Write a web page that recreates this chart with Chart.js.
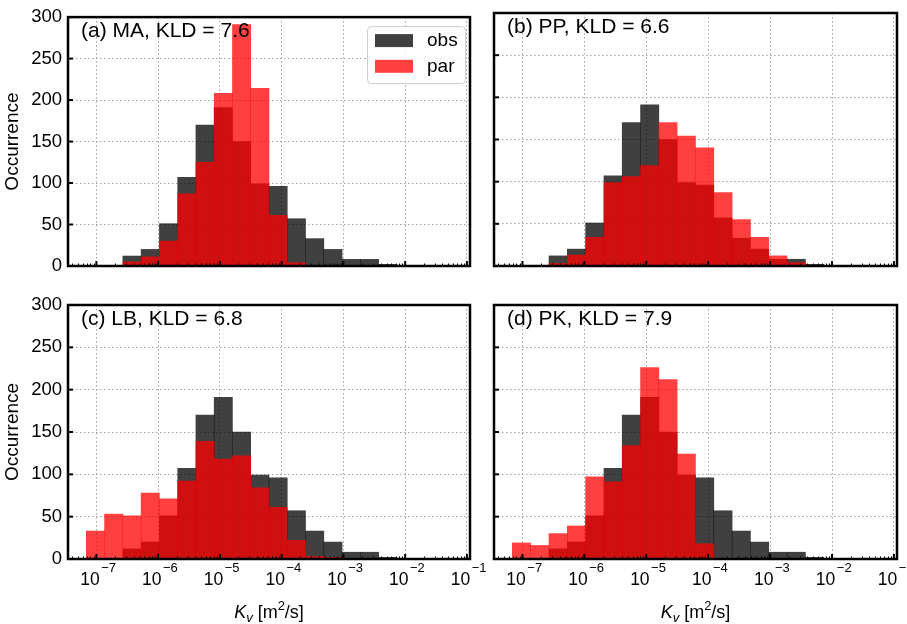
<!DOCTYPE html>
<html>
<head>
<meta charset="utf-8">
<script src="https://cdn.jsdelivr.net/npm/chart.js@4.4.1/dist/chart.umd.min.js"></script>
<style>
  html, body { margin: 0; padding: 0; background: #fff; }
  #fig { position: relative; width: 907px; height: 624px; overflow: hidden; }
  #fig canvas { position: absolute; left: 0; top: 0; }
</style>
</head>
<body>
<div id="fig">
  <canvas id="ca" width="907" height="624"></canvas>
  <canvas id="cb" width="907" height="624"></canvas>
  <canvas id="cc" width="907" height="624"></canvas>
  <canvas id="cd" width="907" height="624"></canvas>
</div>
<script>
const FAM = "'Liberation Sans', Arial, Helvetica, sans-serif"

// log10(Kv) at the middle of each histogram bin
const binCentres = [-7.016, -6.720, -6.424, -6.128, -5.832, -5.536, -5.241, -4.945, -4.649, -4.353,
                    -4.057, -3.761, -3.465, -3.169, -2.873, -2.577, -2.281, -1.985, -1.689, -1.393]
const obsCounts = [0, 0, 12, 20, 51, 107, 170, 191, 150, 99, 96, 57, 33, 20, 8, 8, 2, 0, 0, 0]
const parMA = [0, 0, 5, 11, 30, 87, 125, 208, 291, 214, 61, 4, 0, 0, 0, 0, 0, 0, 0, 0]
const parPP = [0, 0, 3, 13, 34, 99, 106, 119, 170, 154, 140, 87, 55, 34, 12, 4, 0, 0, 0, 0]
const parLB = [33, 53, 51, 78, 71, 92, 139, 118, 122, 84, 61, 22, 3, 2, 0, 0, 0, 0, 0, 0]
const parPK = [19, 16, 30, 39, 97, 91, 134, 226, 212, 124, 18, 0, 0, 0, 0, 0, 0, 0, 0, 0]

const panelNames = ['(a) MA, KLD = 7.6', '(b) PP, KLD = 6.6', '(c) LB, KLD = 6.8', '(d) PK, KLD = 7.9']
const seriesNames = ['obs', 'par']
const xExps = [-7, -6, -5, -4, -3, -2, -1]
const yTicks = [0, 50, 100, 150, 200, 250, 300]
const xRange = [-7.46, -0.95]

const obsColor = 'rgba(0,0,0,0.75)'
const parColor = 'rgba(255,0,0,0.75)'

function line(ctx, x1, y1, x2, y2) {
    ctx.beginPath()
    ctx.moveTo(x1, y1)
    ctx.lineTo(x2, y2)
    ctx.stroke()
}

// ticks inside the frame, frame, panel text, legend, x labels
const kvDeco = {
    id: 'kvDeco',
    afterDraw(chart, args, opts) {
        const ctx = chart.ctx
        const a = chart.chartArea
        const x = chart.scales.x
        const y = chart.scales.y
        ctx.save()
        ctx.strokeStyle = '#000'
        ctx.lineWidth = 1
        for (let n = -8; n <= -1; n++) {
            for (let k = 2; k <= 9; k++) {
                const v = n + Math.log10(k)
                if (v <= x.min || v >= x.max) continue
                const px = Math.round(x.getPixelForValue(v)) + 0.5
                line(ctx, px, a.bottom, px, a.bottom - 2.5)
            }
        }
        ctx.lineWidth = 2
        xExps.forEach(e => {
            const px = x.getPixelForValue(e)
            line(ctx, px, a.bottom, px, a.bottom - 5)
        })
        yTicks.forEach(t => {
            const py = y.getPixelForValue(t)
            line(ctx, a.left, py, a.left + 5, py)
        })
        ctx.lineWidth = 2.5
        ctx.strokeRect(a.left, a.top, a.right - a.left, a.bottom - a.top)

        ctx.fillStyle = '#000'
        ctx.textBaseline = 'middle'
        ctx.textAlign = 'left'
        ctx.font = '21px ' + FAM
        ctx.fillText(opts.name, a.left + 13, a.top + 14)

        if (opts.legend) {
            const bx = a.right - 103, by = a.top + 9, bw = 98, bh = 57
            ctx.fillStyle = 'rgba(255,255,255,0.8)'
            ctx.strokeStyle = '#cccccc'
            ctx.lineWidth = 1
            ctx.beginPath()
            ctx.roundRect(bx + 0.5, by + 0.5, bw, bh, 4)
            ctx.fill()
            ctx.stroke()
            const cols = [obsColor, parColor]
            seriesNames.forEach((s, i) => {
                const sy = by + 8 + i * 25.7
                ctx.fillStyle = cols[i]
                ctx.fillRect(bx + 8, sy, 38, 13)
                ctx.fillStyle = '#000'
                ctx.font = '19px ' + FAM
                ctx.fillText(s, bx + 60, sy + 7)
            })
        }

        if (opts.xLab) {
            ctx.textBaseline = 'alphabetic'
            xExps.forEach(e => {
                const px = x.getPixelForValue(e)
                ctx.font = '17.5px ' + FAM
                const w1 = ctx.measureText('10').width
                const sup = '\u2212' + Math.abs(e)
                ctx.font = '13px ' + FAM
                const w2 = ctx.measureText(sup).width
                const x0 = px - (w1 + w2) / 2 + 1
                ctx.font = '17.5px ' + FAM
                ctx.fillText('10', x0, a.bottom + 26)
                ctx.font = '13px ' + FAM
                ctx.fillText(sup, x0 + w1 + 1.5, a.bottom + 13)
            })
            // x title: K_v [m^2/s]
            const parts = [
                ['K', 'italic 18px ' + FAM, 0],
                ['v', 'italic 13px ' + FAM, 4],
                [' [m', '18px ' + FAM, 0],
                ['2', '13px ' + FAM, -8],
                ['/s]', '18px ' + FAM, 0]
            ]
            let total = 0
            parts.forEach(p => { ctx.font = p[1]; total += ctx.measureText(p[0]).width })
            let cx = (a.left + a.right) / 2 - total / 2
            const base = a.bottom + 59
            parts.forEach(p => {
                ctx.font = p[1]
                ctx.fillText(p[0], cx, base + p[2])
                cx += ctx.measureText(p[0]).width
            })
        }
        ctx.restore()
    }
}

const panels = [
    { id: 'ca', par: parMA, name: panelNames[0], pad: { left: 0, right: 437, top: 13, bottom: 358 }, yw: 68, yLab: true, xLab: false, legend: true },
    { id: 'cb', par: parPP, name: panelNames[1], pad: { left: 480, right: 10, top: 13, bottom: 358 }, yw: 14, yLab: false, xLab: false, legend: false },
    { id: 'cc', par: parLB, name: panelNames[2], pad: { left: 0, right: 437, top: 305, bottom: 65 }, yw: 68, yLab: true, xLab: true, legend: false },
    { id: 'cd', par: parPK, name: panelNames[3], pad: { left: 480, right: 10, top: 305, bottom: 65 }, yw: 14, yLab: false, xLab: true, legend: false }
]

panels.forEach(p => {
    new Chart(document.querySelector('#' + p.id), {
        type: 'bar',
        data: {
            datasets: [
                {
                    label: seriesNames[0],
                    data: binCentres.map((c, i) => ({ x: c, y: obsCounts[i] })),
                    backgroundColor: obsColor,
                    borderWidth: 0,
                    order: 2
                },
                {
                    label: seriesNames[1],
                    data: binCentres.map((c, i) => ({ x: c, y: p.par[i] })),
                    backgroundColor: parColor,
                    borderWidth: 0,
                    order: 1
                }
            ]
        },
        options: {
            responsive: false,
            animation: false,
            events: [],
            grouped: false,
            barPercentage: 1,
            categoryPercentage: 1,
            layout: { padding: p.pad },
            plugins: {
                legend: { display: false },
                tooltip: { enabled: false },
                kvDeco: { name: p.name, xLab: p.xLab, legend: p.legend }
            },
            scales: {
                x: {
                    type: 'linear',
                    min: xRange[0],
                    max: xRange[1],
                    offset: false,
                    afterBuildTicks: s => { s.ticks = xExps.map(v => ({ value: v })) },
                    afterFit: s => { s.height = 0 },
                    ticks: { display: false },
                    grid: { offset: false, drawTicks: false, color: '#a0a0a0', lineWidth: 1 },
                    border: { display: false, dash: [1.5, 2.5] }
                },
                y: {
                    min: 0,
                    max: 300,
                    afterBuildTicks: s => { s.ticks = yTicks.map(v => ({ value: v })) },
                    afterFit: s => { s.width = p.yw },
                    ticks: {
                        display: p.yLab,
                        padding: 6,
                        color: '#000',
                        font: { family: FAM, size: 18.5 }
                    },
                    title: {
                        display: p.yLab,
                        text: 'Occurrence',
                        color: '#000',
                        font: { family: FAM, size: 19 },
                        padding: { top: 1, bottom: 0 }
                    },
                    grid: { drawTicks: false, color: '#a0a0a0', lineWidth: 1 },
                    border: { display: false, dash: [1.5, 2.5] }
                }
            }
        },
        plugins: [kvDeco]
    })
})
</script>
</body>
</html>
